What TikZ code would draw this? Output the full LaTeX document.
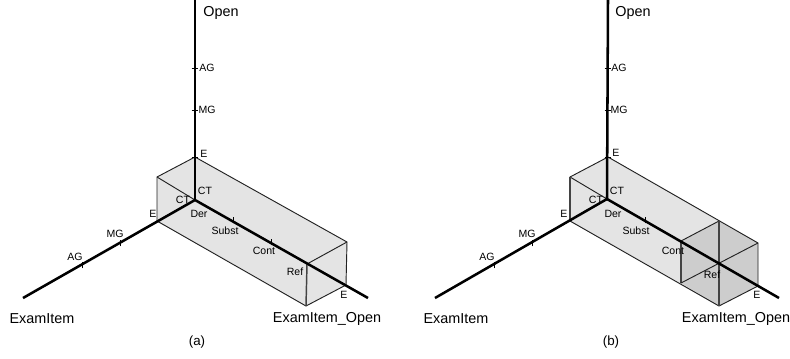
\documentclass[tikz,border=0pt]{standalone}
\usepackage{fontspec}
\setmainfont{Liberation Sans}
\usetikzlibrary{positioning}
\definecolor{FaceA}{HTML}{E4E4E4}
\definecolor{FaceB}{HTML}{CDCDCD}
\definecolor{EdgeA}{HTML}{222222}
\tikzset{
  axis/.style={draw=black, line width=1.9pt},
  edge/.style={draw=EdgeA, line width=0.7pt, line join=round},
  heavyedge/.style={draw=EdgeA!85, line width=1.1pt},
  lightface/.style={fill=FaceA},
  darkface/.style={fill=FaceB},
  marker/.style={draw=black, line width=0.5pt},
  lab/.style={font=\fontsize{7.9}{8}\selectfont, inner sep=0pt},
  title/.style={font=\fontsize{10.8}{12}\selectfont, inner sep=0pt},
  caption/.style={font=\fontsize{10}{11}\selectfont, inner sep=0pt}
}
\begin{document}
\begin{tikzpicture}[x=0.75pt, y=-0.75pt]
  \useasboundingbox (0,0) rectangle (790,358);

  % panel (a)
  \coordinate (oa) at (195,200);
  \coordinate (upa) at (195,0);
  \coordinate (lefta) at (23,298);
  \coordinate (righta) at (368,298);
  \coordinate (tla) at (157,177);
  \coordinate (topa) at (195,157);
  \coordinate (bla) at (157,221);
  \coordinate (fba) at (306,306);
  \coordinate (refa) at (307,264);
  \coordinate (rta) at (347,242);
  \coordinate (rba) at (346,285);
  \coordinate (aga) at (195,68);
  \coordinate (mga) at (195,110);
  \coordinate (mgla) at (120,243);
  \coordinate (agla) at (82,265);
  \coordinate (subsa) at (233,220);
  \coordinate (conta) at (271,242);

  \path[lightface] (tla) -- (topa) -- (rta) -- (rba) -- (fba) -- (bla) -- cycle;
  \draw[edge] (tla) -- (topa) -- (rta) -- (rba) -- (fba) -- (bla) -- cycle;
  \draw[edge] (tla) -- (oa);
  \draw[edge] (rta) -- (refa);
  \draw[heavyedge] (refa) -- (fba);
  \draw[axis] (upa) -- (oa);
  \draw[axis] (oa) -- (lefta);
  \draw[axis] (oa) -- (righta);
  \draw[marker] ([xshift=-2.5]aga) -- ([xshift=2.5]aga);
  \draw[marker] ([xshift=-2.5]mga) -- ([xshift=2.5]mga);
  \draw[marker] ([xshift=-2.5]topa) -- ([xshift=2.5]topa);
  \draw[marker] ([yshift=-2.5]mgla) -- ([yshift=2.5]mgla);
  \draw[marker] ([yshift=-2.5]agla) -- ([yshift=2.5]agla);
  \draw[marker] ([yshift=-2.5]subsa) -- ([yshift=2.5]subsa);
  \draw[marker] ([yshift=-2.5]conta) -- ([yshift=2.5]conta);

  \node[title] (opena) at (221,13) {Open};
  \node[lab] (labaga) at (207,68) {AG};
  \node[lab] (labmga) at (207,110) {MG};
  \node[lab] (labea) at (204,154) {E};
  \node[lab] (labcta) at (205,191) {CT};
  \node[lab] (labctla) at (183,200) {CT};
  \node[lab] (labdera) at (199,214) {Der};
  \node[lab] (labsubsa) at (225,231) {Subst};
  \node[lab] (labconta) at (264,251) {Cont};
  \node[lab] (labrefa) at (295,272) {Ref};
  \node[lab] (labera) at (344,295) {E};
  \node[lab] (labela) at (153,214) {E};
  \node[lab] (labmgla) at (115,234) {MG};
  \node[lab] (labagla) at (75,257) {AG};
  \node[title] (itema) at (42,319) {ExamItem};
  \node[title] (itemopena) at (327,319) {ExamItem\_Open};
  \node[caption] (capa) at (197,342) {(a)};

  % panel (b)
  \coordinate (ob) at (607,199);
  \coordinate (upb) at (608,0);
  \coordinate (leftb) at (435,298);
  \coordinate (rightb) at (779,298);
  \coordinate (tlb) at (570,177);
  \coordinate (topb) at (608,157);
  \coordinate (blb) at (570,221);
  \coordinate (fbb) at (719,306);
  \coordinate (refb) at (720,264);
  \coordinate (rtb) at (758,243);
  \coordinate (rbb) at (758,286);
  \coordinate (ctb) at (681,241);
  \coordinate (cbb) at (681,283);
  \coordinate (mtb) at (719,221);
  \coordinate (agb) at (608,68);
  \coordinate (mgb) at (608,110);
  \coordinate (mglb) at (532,243);
  \coordinate (aglb) at (494,265);
  \coordinate (subsb) at (645,220);

  \path[lightface] (tlb) -- (topb) -- (rtb) -- (rbb) -- (fbb) -- (blb) -- cycle;
  \path[darkface] (ctb) -- (mtb) -- (rtb) -- (rbb) -- (fbb) -- (cbb) -- cycle;
  \draw[edge] (tlb) -- (topb) -- (rtb) -- (rbb) -- (fbb) -- (blb) -- cycle;
  \draw[edge] (tlb) -- (ob);
  \draw[edge] (ctb) -- (mtb);
  \draw[heavyedge] (mtb) -- (fbb);
  \draw[heavyedge] (ctb) -- (cbb);
  \draw[heavyedge] (tlb) -- (blb);
  \draw[edge] (cbb) -- (rtb);
  \draw[axis] (upb) -- (ob);
  \draw[axis] (ob) -- (leftb);
  \draw[axis] (ob) -- (rightb);
  \draw[marker] ([xshift=-2.5]agb) -- ([xshift=2.5]agb);
  \draw[marker] ([xshift=-2.5]mgb) -- ([xshift=2.5]mgb);
  \draw[marker] ([xshift=-2.5]topb) -- ([xshift=2.5]topb);
  \draw[marker] ([yshift=-2.5]mglb) -- ([yshift=2.5]mglb);
  \draw[marker] ([yshift=-2.5]aglb) -- ([yshift=2.5]aglb);
  \draw[marker] ([yshift=-2.5]subsb) -- ([yshift=2.5]subsb);

  \node[title] (openb) at (633,13) {Open};
  \node[lab] (labagb) at (619,68) {AG};
  \node[lab] (labmgb) at (619,110) {MG};
  \node[lab] (labeb) at (616,153) {E};
  \node[lab] (labctb) at (617,191) {CT};
  \node[lab] (labctlb) at (596,200) {CT};
  \node[lab] (labderb) at (613,214) {Der};
  \node[lab] (labsubsb) at (636,231) {Subst};
  \node[lab] (labcontb) at (673,251) {Cont};
  \node[lab] (labrefb) at (712,275) {Ref};
  \node[lab] (laberb) at (757,295) {E};
  \node[lab] (labelb) at (564,214) {E};
  \node[lab] (labmglb) at (527,234) {MG};
  \node[lab] (labaglb) at (487,257) {AG};
  \node[title] (itemb) at (456,319) {ExamItem};
  \node[title] (itemopenb) at (736,319) {ExamItem\_Open};
  \node[caption] (capb) at (611,342) {(b)};
\end{tikzpicture}
\end{document}
